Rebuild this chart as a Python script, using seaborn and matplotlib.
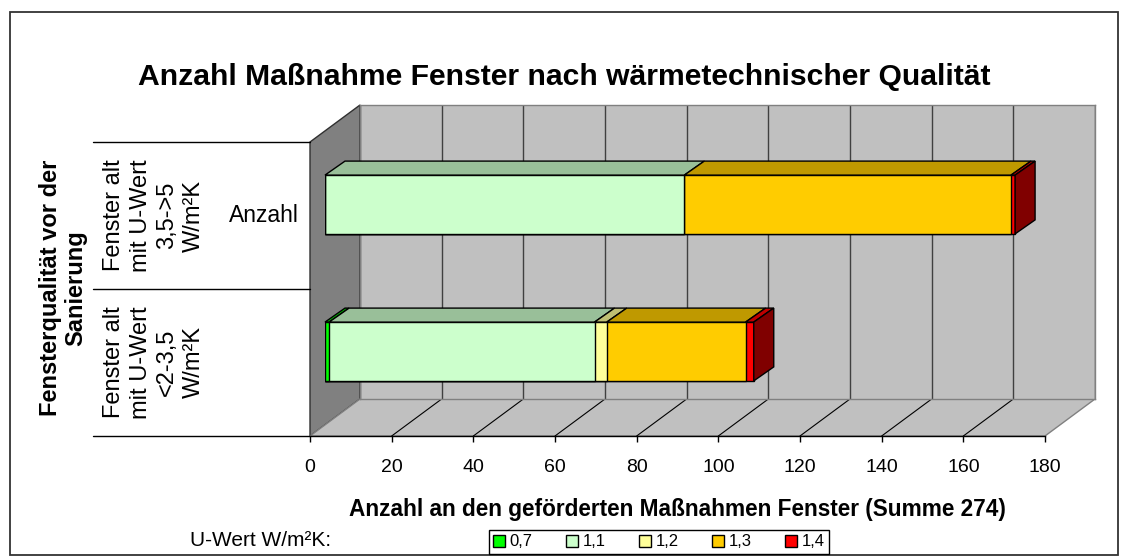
import matplotlib
matplotlib.use("Agg")
import pandas as pd
import matplotlib.pyplot as plt
import matplotlib.colors as mcolors
from matplotlib.patches import Polygon, Rectangle, Patch
import seaborn as sns

# Daten
kategorien = ["Fenster alt\nmit U-Wert\n3,5->5\nW/m²K", "Fenster alt\nmit U-Wert\n<2-3,5\nW/m²K"]
klassen = ["0,7", "1,1", "1,2", "1,3", "1,4"]
werte_35_5 = [0, 88, 0, 80, 1]
werte_2_35 = [1, 65, 3, 34, 2]
farben = ["#00FF00", "#CCFFCC", "#FFFF99", "#FFCC00", "#FF0000"]
x_ticks = [0, 20, 40, 60, 80, 100, 120, 140, 160, 180]

rows = []
for kat, werte in zip(kategorien, [werte_35_5, werte_2_35]):
    for k, w in zip(klassen, werte):
        rows.append({"Kategorie": kat, "Klasse": k, "Wert": w})
df = pd.DataFrame(rows)
df["Kumuliert"] = df.groupby("Kategorie")["Wert"].cumsum()

sns.set_theme(style="white")
plt.rcParams["font.family"] = ["Liberation Sans", "DejaVu Sans"]
plt.rcParams["text.color"] = "black"
plt.rcParams["axes.labelcolor"] = "black"
plt.rcParams["xtick.color"] = "black"
plt.rcParams["xtick.labelcolor"] = "black"

W, H = 1128, 557
fig = plt.figure(figsize=(W / 100, H / 100), dpi=100)


def rect(x0, y0, x1, y1):
    # Pixel (oben-links) -> Figure-Anteile
    return [x0 / W, 1 - y1 / H, (x1 - x0) / W, (y1 - y0) / H]


def shade(c, f):
    r, g, b = mcolors.to_rgb(c)
    return (r * f, g * f, b * f)


# Hintergrund-Achse in Pixelkoordinaten
ax_bg = fig.add_axes([0, 0, 1, 1], zorder=0)
ax_bg.set_xlim(0, W)
ax_bg.set_ylim(H, 0)
ax_bg.axis("off")

front = (310, 142, 1045, 436)
DXW, DYW = 50, 37
back = (front[0] + DXW, front[1] - DYW, front[2] + DXW, front[3] - DYW)
barpl = (front[0] + 15, front[1] - 11, front[2] + 15, front[3] - 11)
DX, DY = 20, 14

# Rückwand
ax_back = fig.add_axes(rect(*back), zorder=1)
ax_back.set_facecolor("#C0C0C0")
ax_back.set_xlim(0, 180)
ax_back.set_ylim(1.5, -0.5)
ax_back.set_xticks(x_ticks)
ax_back.set_yticks([])
ax_back.tick_params(axis="x", length=0, labelbottom=False)
ax_back.grid(axis="x", color="#404040", linewidth=1.0)
for s in ax_back.spines.values():
    s.set_color("#808080")
    s.set_linewidth(1.0)

# Seitenwand und Boden
ax_bg.add_patch(Polygon([(front[0], front[1]), (back[0], back[1]), (back[0], back[3]), (front[0], front[3])],
                        closed=True, facecolor="#808080", edgecolor="#303030", linewidth=1.0))
ax_bg.add_patch(Polygon([(front[0], front[3]), (front[2], front[3]), (back[2], back[3]), (back[0], back[3])],
                        closed=True, facecolor="#C0C0C0", edgecolor="#808080", linewidth=1.0))

# Vordere Achse (Beschriftung)
ax_front = fig.add_axes(rect(*front), zorder=2)
ax_front.patch.set_visible(False)
ax_front.set_xlim(0, 180)
ax_front.set_ylim(1.5, -0.5)
ax_front.set_xticks(x_ticks)
ax_front.set_yticks([])
for side in ["top", "right", "left"]:
    ax_front.spines[side].set_visible(False)
ax_front.spines["bottom"].set_color("black")
ax_front.spines["bottom"].set_linewidth(1.0)
ax_front.tick_params(axis="x", direction="out", length=4.5, width=1, color="black",
                     labelsize=14, pad=12, bottom=True)
ax_front.set_xlabel("Anzahl an den geförderten Maßnahmen Fenster (Summe 274)",
                    fontsize=16.3, fontweight="bold", labelpad=16)

# Bodenlinien
inv = ax_bg.transData.inverted()
for v in x_ticks[1:-1]:
    p0 = inv.transform(ax_front.transData.transform((v, 1.5)))
    p1 = inv.transform(ax_back.transData.transform((v, 1.5)))
    ax_bg.plot([p0[0], p1[0]], [p0[1], p1[1]], color="black", linewidth=0.8)

# Balken (gestapelt)
ax_bar = fig.add_axes(rect(*barpl), zorder=3)
ax_bar.patch.set_visible(False)
for k, farbe in reversed(list(zip(klassen, farben))):
    sub = df[df["Klasse"] == k]
    sns.barplot(data=sub, x="Kumuliert", y="Kategorie", order=kategorien, orient="h",
                color=farbe, saturation=1, width=0.4, edgecolor="black", linewidth=1.0,
                errorbar=None, ax=ax_bar)
ax_bar.set_xlim(0, 180)
ax_bar.set_ylim(1.5, -0.5)
ax_bar.axis("off")

# 3D-Flächen der Balken
for i, kat in enumerate(kategorien):
    sub = df[df["Kategorie"] == kat]
    sub = sub[sub["Wert"] > 0]
    for _, r in sub.iterrows():
        x0, x1 = r["Kumuliert"] - r["Wert"], r["Kumuliert"]
        a = inv.transform(ax_bar.transData.transform((x0, i - 0.2)))
        b = inv.transform(ax_bar.transData.transform((x1, i - 0.2)))
        farbe = farben[klassen.index(r["Klasse"])]
        ax_bar.add_patch(Polygon([a, b, (b[0] + DX, b[1] - DY), (a[0] + DX, a[1] - DY)], closed=True,
                                 facecolor=shade(farbe, 0.75), edgecolor="black", linewidth=1.0,
                                 transform=ax_bg.transData, clip_on=False))
    last = sub.iloc[-1]
    xe = last["Kumuliert"]
    a = inv.transform(ax_bar.transData.transform((xe, i - 0.2)))
    b = inv.transform(ax_bar.transData.transform((xe, i + 0.2)))
    farbe = farben[klassen.index(last["Klasse"])]
    ax_bar.add_patch(Polygon([a, b, (b[0] + DX, b[1] - DY), (a[0] + DX, a[1] - DY)], closed=True,
                             facecolor=shade(farbe, 0.5), edgecolor="black", linewidth=1.0,
                             transform=ax_bg.transData, clip_on=False))

# Kategorie-Beschriftung links
for yy in [front[1], (front[1] + front[3]) / 2, front[3]]:
    ax_bg.plot([93, front[0]], [yy, yy], color="black", linewidth=1.0)
for i, kat in enumerate(kategorien):
    yc = inv.transform(ax_front.transData.transform((0, i)))[1]
    ax_bg.text(154, yc, kat, rotation=90, ha="center", va="center", multialignment="center",
               fontsize=17, linespacing=1.27)
yc0 = inv.transform(ax_front.transData.transform((0, 0)))[1]
ax_bg.text(264, yc0, "Anzahl", ha="center", va="center", fontsize=16.5)
ax_bg.text(63, 288, "Fensterqualität vor der\nSanierung", rotation=90, ha="center", va="center",
           multialignment="center", fontsize=17, fontweight="bold", linespacing=1.15)

# Titel, Rahmen, Legende
ax_bg.text(W / 2, 77, "Anzahl Maßnahme Fenster nach wärmetechnischer Qualität",
           ha="center", va="center", fontsize=21.7, fontweight="bold")
ax_bg.add_patch(Rectangle((10, 12), 1108, 543, fill=False, edgecolor="#333333", linewidth=1.3))
ax_bg.text(190, 541, "U-Wert W/m²K:", ha="left", va="center", fontsize=15)

handles = [Patch(facecolor=f, edgecolor="black", label=k) for k, f in zip(klassen, farben)]
leg = fig.legend(handles=handles, ncol=5, loc="center", bbox_to_anchor=(659 / W, 1 - 542 / H),
                 frameon=True, fancybox=False, edgecolor="black", framealpha=1, fontsize=12,
                 handlelength=0.7, handleheight=0.7, handletextpad=0.3, columnspacing=2.0,
                 borderpad=0.25)
leg.get_frame().set_linewidth(1.0)

fig.savefig("out.png", dpi=100)
